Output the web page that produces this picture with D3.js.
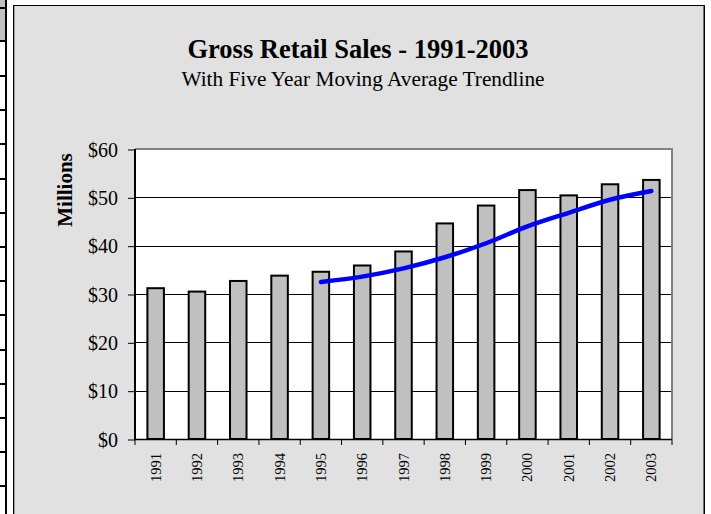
<!DOCTYPE html>
<html>
<head>
<meta charset="utf-8">
<script src="https://cdn.jsdelivr.net/npm/d3@7"></script>
<style>
  html, body { margin: 0; padding: 0; background: #ffffff; }
  svg { display: block; }
</style>
</head>
<body>
<svg id="chart" width="711" height="514"></svg>
<script>
// ---- data ----
const years = ["1991","1992","1993","1994","1995","1996","1997","1998","1999","2000","2001","2002","2003"];
const sales = [31.2, 30.5, 32.7, 33.8, 34.6, 35.9, 38.8, 44.6, 48.3, 51.5, 50.4, 52.7, 53.6];
const maYears = ["1995","1996","1997","1998","1999","2000","2001","2002","2003"];
const movingAvg = [32.5, 33.6, 35.3, 37.6, 40.5, 44.0, 46.8, 49.5, 51.3];
const yTicks = [0, 10, 20, 30, 40, 50, 60];
const titleText = "Gross Retail Sales - 1991-2003";
const subtitleText = "With Five Year Moving Average Trendline";
const yAxisTitle = "Millions";

const serif = "'Liberation Serif', 'Times New Roman', Times, serif";
const svg = d3.select("#chart");

// ---- left table strip (decoration) ----
const strip = svg.append("g");
strip.append("rect").attr("x", 0).attr("y", 0).attr("width", 5).attr("height", 41).attr("fill", "#c0c0c0");
const rowLines = [8, 41];
for (let yy = 76; yy < 514; yy += 34.2) rowLines.push(Math.round(yy));
rowLines.forEach(yy => strip.append("rect").attr("x", 0).attr("y", yy - 1).attr("width", 6).attr("height", 2).attr("fill", "#000"));
strip.append("rect").attr("x", 5).attr("y", 0).attr("width", 2).attr("height", 514).attr("fill", "#000");

// ---- chart frame ----
svg.append("rect").attr("x", 13.5).attr("y", 5.5).attr("width", 690.5).attr("height", 520)
  .attr("fill", "#e1e1e1").attr("stroke", "#000").attr("stroke-width", 1);
svg.append("line").attr("x1", 14.5).attr("x2", 14.5).attr("y1", 6).attr("y2", 514).attr("stroke", "#a0a0a0").attr("stroke-width", 1);
svg.append("line").attr("x1", 704.5).attr("x2", 704.5).attr("y1", 5).attr("y2", 514).attr("stroke", "#000").attr("stroke-width", 1);

// ---- titles ----
svg.append("text").attr("x", 358).attr("y", 58).attr("text-anchor", "middle")
  .attr("font-family", serif).attr("font-weight", "bold").attr("font-size", "26.5px").attr("fill", "#000")
  .text(titleText);
svg.append("text").attr("x", 363).attr("y", 86).attr("text-anchor", "middle")
  .attr("font-family", serif).attr("font-size", "21.3px").attr("fill", "#000")
  .text(subtitleText);

// ---- plot ----
const plot = { left: 135, right: 672, top: 149, bottom: 439 };
const x = d3.scaleBand().domain(years).range([plot.left, plot.right]).paddingInner(0.6).paddingOuter(0.3);
const y = d3.scaleLinear().domain([0, 60]).range([plot.bottom, plot.top]);

svg.append("rect").attr("x", plot.left).attr("y", plot.top)
  .attr("width", plot.right - plot.left).attr("height", plot.bottom - plot.top).attr("fill", "#fff");

// gridlines
svg.append("g").selectAll("line").data(yTicks.filter(d => d > 0 && d < 60)).join("line")
  .attr("x1", plot.left).attr("x2", plot.right)
  .attr("y1", d => Math.round(y(d)) + 0.5).attr("y2", d => Math.round(y(d)) + 0.5)
  .attr("stroke", "#000").attr("stroke-width", 1);

// top & right border (grey)
svg.append("path")
  .attr("d", `M${plot.left},${plot.top} H${plot.right} V${plot.bottom}`)
  .attr("fill", "none").attr("stroke", "#808080").attr("stroke-width", 2);

// bars
svg.append("g").selectAll("rect").data(years).join("rect")
  .attr("x", d => x(d)).attr("width", x.bandwidth())
  .attr("y", (d, i) => y(sales[i])).attr("height", (d, i) => y(0) - y(sales[i]))
  .attr("fill", "#c0c0c0").attr("stroke", "#000").attr("stroke-width", 2);

// y axis
const yAxis = svg.append("g").attr("transform", `translate(${plot.left},0)`)
  .call(d3.axisLeft(y).tickValues(yTicks).tickFormat(d => "$" + d).tickSize(7).tickPadding(10));
yAxis.select(".domain").remove();
yAxis.selectAll(".tick line").attr("stroke", "#000").attr("stroke-width", 1)
  .attr("transform", "translate(0,0.5)");
yAxis.selectAll(".tick text").attr("font-family", serif).attr("font-size", "20px").attr("fill", "#000")
  .attr("dy", "0.36em");

svg.append("line").attr("x1", plot.left).attr("x2", plot.left).attr("y1", plot.top).attr("y2", plot.bottom + 1)
  .attr("stroke", "#000").attr("stroke-width", 2);

// x axis
const xAxis = svg.append("g").attr("transform", `translate(0,${plot.bottom})`)
  .call(d3.axisBottom(x).tickSize(0).tickPadding(0));
xAxis.select(".domain").remove();
xAxis.selectAll(".tick text")
  .attr("font-family", serif).attr("font-size", "14.5px").attr("fill", "#000")
  .attr("text-anchor", "end").attr("y", 0).attr("dy", 0)
  .attr("transform", "translate(5,14) rotate(-90)");

svg.append("line").attr("x1", plot.left - 1).attr("x2", plot.right).attr("y1", plot.bottom + 0.5).attr("y2", plot.bottom + 0.5)
  .attr("stroke", "#000").attr("stroke-width", 1.5);
const step = x.step();
const boundaries = d3.range(years.length + 1).map(i => x(years[0]) - x.paddingOuter() * step - x.paddingInner() * step / 2 + i * step);
svg.append("g").selectAll("line").data(d3.range(years.length + 1)).join("line")
  .attr("x1", i => plot.left + i * (plot.right - plot.left) / years.length)
  .attr("x2", i => plot.left + i * (plot.right - plot.left) / years.length)
  .attr("y1", plot.bottom).attr("y2", plot.bottom + 6)
  .attr("stroke", "#000").attr("stroke-width", 1);

// y axis title
svg.append("text").attr("transform", "translate(72,190) rotate(-90)")
  .attr("text-anchor", "middle").attr("font-family", serif).attr("font-weight", "bold")
  .attr("font-size", "21px").attr("fill", "#000").text(yAxisTitle);

// moving average trendline
const line = d3.line()
  .x((d, i) => x(maYears[i]) + x.bandwidth() / 2)
  .y(d => y(d))
  .curve(d3.curveCatmullRom.alpha(0.5));
svg.append("path").datum(movingAvg).attr("d", line)
  .attr("fill", "none").attr("stroke", "#0000ff").attr("stroke-width", 4.5)
  .attr("stroke-linecap", "round").attr("stroke-linejoin", "round");
</script>
</body>
</html>
